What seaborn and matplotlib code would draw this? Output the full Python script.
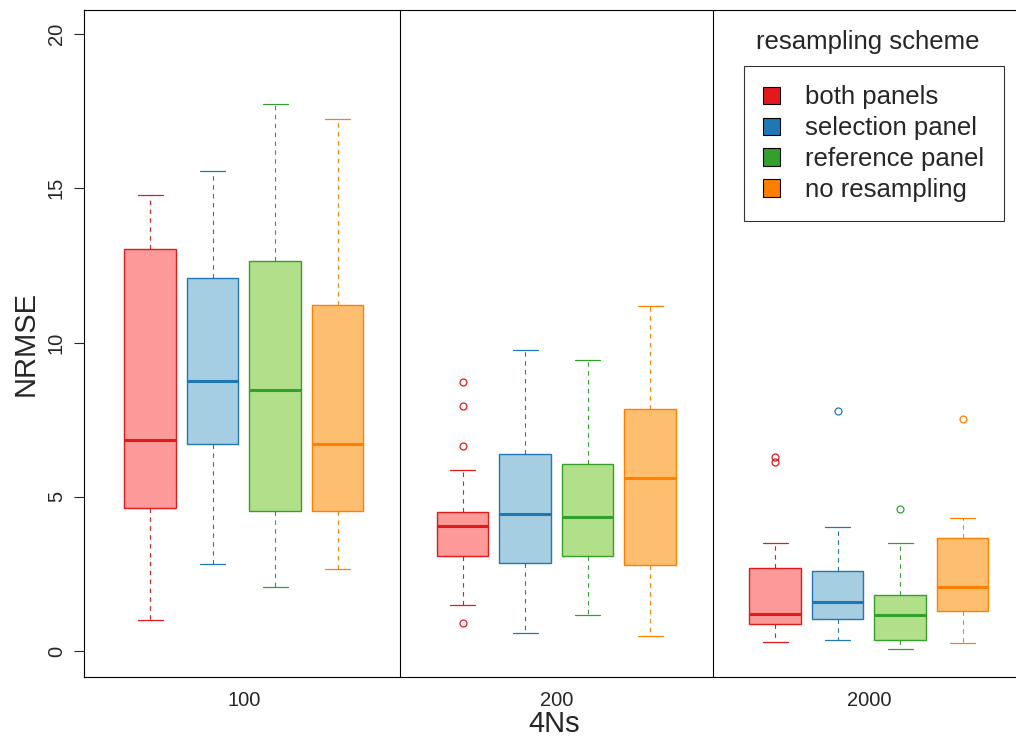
import matplotlib
matplotlib.use("Agg")
import matplotlib.pyplot as plt
from matplotlib.patches import Patch
import seaborn as sns

# 4Ns groups and resampling schemes
groups = ["100", "200", "2000"]
schemes = ["both panels", "selection panel", "reference panel", "no resampling"]

# Box summaries, one row per 4Ns group, one entry per scheme
whisker_low = [[1.00, 2.81, 2.07, 2.65],
               [1.51, 0.58, 1.18, 0.49],
               [0.28, 0.35, 0.06, 0.27]]
lower_quartile = [[4.63, 6.70, 4.55, 4.53],
                  [3.09, 2.84, 3.09, 2.78],
                  [0.88, 1.05, 0.36, 1.29]]
median = [[6.85, 8.77, 8.47, 6.71],
          [4.07, 4.45, 4.34, 5.62],
          [1.20, 1.58, 1.16, 2.08]]
upper_quartile = [[13.03, 12.10, 12.66, 11.22],
                  [4.52, 6.40, 6.06, 7.85],
                  [2.68, 2.59, 1.83, 3.65]]
whisker_high = [[14.77, 15.55, 17.73, 17.24],
                [5.87, 9.75, 9.44, 11.20],
                [3.49, 4.03, 3.49, 4.33]]
outliers = [[[], [], [], []],
            [[8.73, 7.93, 6.65, 0.90], [], [], []],
            [[6.30, 6.14], [7.79], [4.60], [7.52]]]

yticks = [0, 5, 10, 15, 20]

sns.set_style("white")
plt.rcParams["font.family"] = ["Liberation Sans", "DejaVu Sans"]

paired = sns.color_palette("Paired")
dark = [paired[5], paired[1], paired[3], paired[7]]
light = [paired[4], paired[0], paired[2], paired[6]]

fig = plt.figure(figsize=(10.16, 7.38), dpi=100)
W, H = 1016, 738
left_px, right_px, top_px, bottom_px = 84, 1025, 10, 677
ax = fig.add_axes([left_px / W, 1 - bottom_px / H,
                   (right_px - left_px) / W, (bottom_px - top_px) / H])

group_step = len(schemes) + 1
for g in range(len(groups)):
    for k in range(len(schemes)):
        stats = dict(whislo=whisker_low[g][k], q1=lower_quartile[g][k],
                     med=median[g][k], q3=upper_quartile[g][k],
                     whishi=whisker_high[g][k], fliers=outliers[g][k])
        ax.bxp([stats], positions=[g * group_step + k + 1], widths=0.83,
               capwidths=0.4, patch_artist=True, showfliers=True,
               manage_ticks=False,
               boxprops=dict(facecolor=light[k], edgecolor=dark[k], linewidth=1.0),
               medianprops=dict(color=dark[k], linewidth=2.2, solid_capstyle="butt"),
               whiskerprops=dict(color=dark[k], linewidth=0.8, linestyle=(0, (4, 4))),
               capprops=dict(color=dark[k], linewidth=0.9),
               flierprops=dict(marker="o", markerfacecolor="none",
                               markeredgecolor=dark[k], markersize=5,
                               markeredgewidth=0.9))

# panel separators
for g in range(1, len(groups)):
    ax.axvline(g * group_step, color="black", linewidth=0.8)

ax.set_xlim(-0.056, 15.0)
ax.set_ylim(-0.84, 20.78)
ax.set_yticks(yticks)
ax.set_yticklabels([str(t) for t in yticks], rotation=90, va="center", fontsize=14.5)
ax.set_xticks([g * group_step + (len(schemes) + 1) / 2 for g in range(len(groups))])
ax.set_xticklabels(groups, fontsize=14.5)
ax.tick_params(axis="y", direction="out", length=7, width=0.8, pad=6, left=True)
ax.tick_params(axis="x", length=0, pad=10)

for side in ["left", "bottom", "top"]:
    ax.spines[side].set_color("black")
    ax.spines[side].set_linewidth(0.8)
ax.spines["right"].set_visible(False)

ax.set_xlabel("4Ns", fontsize=21, labelpad=0)
ax.set_ylabel("NRMSE", fontsize=21, labelpad=5)

handles = [Patch(facecolor=dark[k], edgecolor="black", linewidth=0.8) for k in range(len(schemes))]
leg = fig.legend(handles, schemes, loc="upper left",
                 bbox_to_anchor=(744 / W, 1 - 66 / H), fontsize=18.5,
                 frameon=True, fancybox=False, handlelength=0.66, handleheight=0.66,
                 handletextpad=0.97, labelspacing=0.27, borderpad=0.75,
                 borderaxespad=0)
leg.get_frame().set_edgecolor("black")
leg.get_frame().set_linewidth(0.8)
fig.text(868 / W, 1 - 42 / H, "resampling scheme", ha="center", va="center", fontsize=18.5)

fig.savefig("out.png", dpi=100)
